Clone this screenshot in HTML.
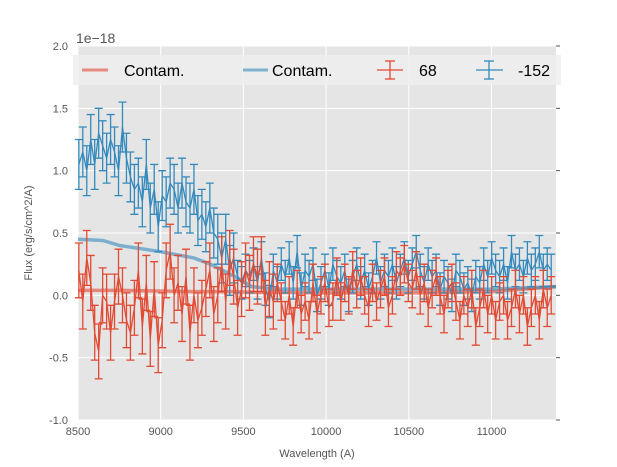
<!DOCTYPE html>
<html><head><meta charset="utf-8">
<style>
html,body{margin:0;padding:0;background:#fff;}
svg{display:block;font-family:"Liberation Sans",sans-serif;}
</style></head>
<body>
<svg id="chart" width="617" height="467" xmlns="http://www.w3.org/2000/svg">
<rect x="78" y="46" width="478" height="374" fill="#e5e5e5"/>
<g id="grid"></g>
<g id="series"></g>
<g id="axes"></g>
<text x="76" y="43" font-size="14" fill="#555">1e−18</text>
<text x="317" y="457" font-size="11" fill="#555" text-anchor="middle">Wavelength (A)</text>
<text transform="translate(32,233) rotate(-90)" font-size="11" fill="#555" text-anchor="middle">Flux (erg/s/cm^2/A)</text>
<g>
<rect x="73" y="55" width="488" height="30" fill="#eeeeee" fill-opacity="0.85"/>
<g><line x1="82" y1="70" x2="108" y2="70" stroke="#E24A33" stroke-width="3" stroke-opacity="0.6"/><text x="124" y="76" font-size="16" fill="#000">Contam.</text></g>
<g><line x1="243" y1="70" x2="268" y2="70" stroke="#348ABD" stroke-width="3" stroke-opacity="0.6"/><text x="272" y="76" font-size="16" fill="#000">Contam.</text></g>
<g stroke="#E24A33" stroke-width="1.3"><line x1="377" y1="70" x2="403" y2="70"/><line x1="390" y1="61" x2="390" y2="79"/><line x1="385" y1="61" x2="395" y2="61"/><line x1="385" y1="79" x2="395" y2="79"/><text x="419" y="76" font-size="16" fill="#000" stroke="none">68</text></g>
<g stroke="#348ABD" stroke-width="1.3"><line x1="476" y1="70" x2="503" y2="70"/><line x1="489" y1="61" x2="489" y2="79"/><line x1="484" y1="61" x2="494" y2="61"/><line x1="484" y1="79" x2="494" y2="79"/><text x="518" y="76" font-size="16" fill="#000" stroke="none">-152</text></g>
</g>
</svg>
<script>
const wlStart = 8505, wlStep = 24;
const blueFlux = [1.05,1.15,1.0,1.25,1.05,1.3,1.2,1.1,1.25,1.15,1.0,1.35,1.1,
0.95,0.85,0.9,0.75,1.05,0.7,0.85,0.55,
0.8,0.75,0.9,0.85,0.7,0.9,0.75,0.7,0.85,0.6,
0.65,0.55,0.7,0.5,0.45,0.3,0.45,0.2,0.3,0.15,
0.1,0.2,0.15,0.25,0.1,0.3,0.05,-0.05,0.2,0.1,
0.25,0.15,0.3,0.1,0.35,0.05,0.2,0.15,0.25,0.0,
0.1,0.2,0.05,0.25,0.15,0.1,0.2,0.0,0.15,0.25,
0.1,0.2,0.05,0.15,0.3,0.1,0.2,0.15,0.25,0.1,
0.2,0.3,0.15,0.25,0.35,0.2,0.1,0.25,0.15,0.2,
0.05,0.15,0.1,0.0,0.2,0.15,0.05,0.1,0.0,0.15,
0.1,0.25,0.15,0.3,0.2,0.15,0.25,0.1,0.35,0.2,
0.25,0.15,0.3,0.2,0.25,0.35,0.2,0.25,0.2];
const redFlux = [0.2,-0.05,0.3,0.1,-0.3,-0.45,0.0,-0.05,-0.3,-0.05,0.15,0.0,-0.2,
-0.3,-0.1,0.2,-0.25,0.1,-0.35,0.05,-0.4,
-0.2,0.2,0.35,0.0,0.1,-0.15,0.15,-0.3,0.0,-0.2,
-0.1,0.05,0.2,-0.15,0.0,0.25,-0.05,0.3,0.15,-0.1,
0.05,0.2,0.1,0.25,0.15,0.25,-0.1,0.05,-0.05,0.1,
-0.05,-0.2,0.0,-0.25,0.05,-0.15,-0.05,-0.2,0.1,-0.15,
0.0,0.1,-0.1,-0.05,0.15,-0.05,0.1,0.0,0.2,0.05,
0.15,0.0,-0.1,0.1,-0.05,0.05,0.15,-0.1,0.0,0.2,
0.15,0.25,0.1,0.05,0.2,0.0,0.1,-0.1,0.05,0.15,
0.0,-0.15,0.05,0.1,-0.05,-0.2,0.0,-0.1,0.05,-0.25,
-0.1,0.05,-0.15,0.0,-0.2,-0.05,0.0,-0.2,-0.1,0.05,
-0.15,0.0,-0.25,-0.1,0.0,-0.2,0.05,-0.1,0.0];
const blueErrEarly = 0.2, blueErrLate = 0.13, blueErrSplit = 40;
const redErrEarly = 0.22, redErrLate = 0.15, redErrSplit = 50;
const contamWl = [8500,8650,8750,9000,9200,9300,9450,9550,9700,10000,10500,11000,11390];
const blueContam = [0.45,0.44,0.40,0.35,0.30,0.25,0.15,0.07,0.05,0.05,0.05,0.05,0.07];
const redContam = [0.04,0.04,0.04,0.035,0.03,0.03,0.03,0.025,0.025,0.02,0.02,0.03,0.07];
const xTicks = [8500,9000,9500,10000,10500,11000];
const yTicks = [-1.0,-0.5,0.0,0.5,1.0,1.5,2.0];

const X0=78,X1=556,Y0=46,Y1=420,XMIN=8500,XMAX=11390,YMIN=-1,YMAX=2;
const xs = v => X0 + (v-XMIN)/(XMAX-XMIN)*(X1-X0);
const ys = v => Y1 - (v-YMIN)/(YMAX-YMIN)*(Y1-Y0);
const NS="http://www.w3.org/2000/svg";
function mk(tag, attrs, parent){const e=document.createElementNS(NS,tag);for(const k in attrs)e.setAttribute(k,attrs[k]);parent.appendChild(e);return e;}
const grid=document.getElementById('grid'), ser=document.getElementById('series'), axes=document.getElementById('axes');
xTicks.forEach(t=>{
  const g=mk('line',{x1:xs(t),x2:xs(t),y1:Y0,y2:Y1,stroke:'#fff','stroke-width':1},grid);
  
  
  const l=mk('text',{x:xs(t),y:Y1+15,'font-size':11,fill:'#555','text-anchor':'middle'},axes);
  l.textContent=t;
  
  
});
yTicks.forEach(t=>{
  const g=mk('line',{x1:X0,x2:X1,y1:ys(t),y2:ys(t),stroke:'#fff','stroke-width':1},grid);
  
  
  const tk=mk('line',{x1:X1,x2:X1+4,y1:ys(t),y2:ys(t),stroke:'#555','stroke-width':1},axes);
  
  
  const l=mk('text',{x:X0-10,y:ys(t)+4,'font-size':11,fill:'#555','text-anchor':'end'},axes);
  l.textContent=t.toFixed(1);
  
  
});
function contamLine(vals,color,name){
  const p=mk('polyline',{points:contamWl.map((w,i)=>xs(w)+','+ys(vals[i])).join(' '),fill:'none',stroke:color,'stroke-width':3.5,'stroke-opacity':0.6},ser);
  
  
}
function errSeries(vals,e1,e2,split,color,name){
  const g=mk('g',{stroke:color,'stroke-width':1.3,fill:'none'},ser);
  
  
  vals.forEach((v,i)=>{
    const x=xs(wlStart+wlStep*i), e=i<split?e1:e2;
    const b=mk('path',{d:`M${x},${ys(v-e)}V${ys(v+e)}M${x-4},${ys(v-e)}h8M${x-4},${ys(v+e)}h8`},g);
    
    
  });
  const p=mk('polyline',{points:vals.map((v,i)=>xs(wlStart+wlStep*i)+','+ys(v)).join(' ')},g);
  
  
}
contamLine(redContam,'#E24A33','contam-line-68');
contamLine(blueContam,'#348ABD','contam-line-152');
errSeries(blueFlux,blueErrEarly,blueErrLate,blueErrSplit,'#348ABD','series-152');
errSeries(redFlux,redErrEarly,redErrLate,redErrSplit,'#E24A33','series-68');
</script>
</body></html>
